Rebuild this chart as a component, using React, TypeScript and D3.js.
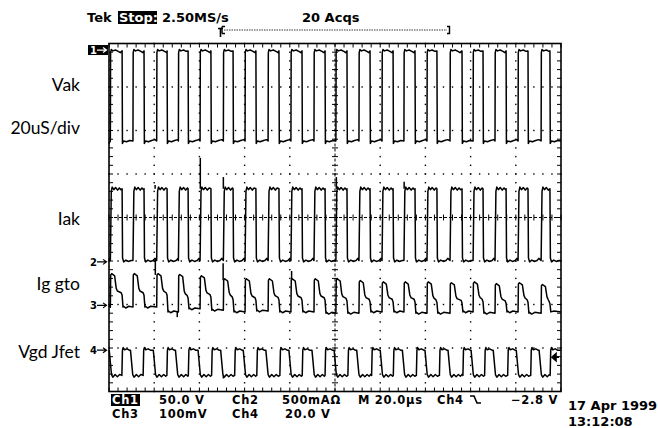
import * as d3 from "d3";

// scope settings: 20 us/div over 10 divisions, 8 vertical divisions
const timeDomain = [0, 200];
const divDomain = [-4, 4];

const gtoRise = [0.6, 10.6, 21.1, 30.7, 40.3, 50.6, 60.2, 70.4, 80.5, 90.7, 100.4, 110.6, 120.8, 130.5, 140.7, 150.9, 161.1, 170.8, 181.0, 191.2];
const gtoFall = [5.8, 15.5, 25.7, 35.0, 45.1, 54.9, 65.0, 75.2, 85.4, 95.6, 105.3, 115.5, 125.7, 135.4, 145.1, 156.2, 165.5, 175.7, 185.4, 195.1];

// JFET gate edges (us), Ch4
const jfetRise = [5.7, 15.1, 25.6, 35.1, 45.4, 55.6, 65.4, 75.6, 85.5, 95.6, 105.7, 116.2, 125.8, 136.0, 146.2, 156.6, 166.2, 176.4, 186.6, 195.2];
const jfetFall = [0.1, 9.5, 19.6, 29.4, 39.4, 49.4, 59.4, 69.4, 79.6, 89.8, 99.6, 109.6, 120.0, 129.8, 139.8, 150.0, 160.2, 170.0, 180.2, 190.3];

// levels in divisions
const vakLevels = [3.83, 1.76];
const iakLevels = [0.66, -0.99];
const jfetLevels = [-3.05, -3.63];

// plateau ripple [dt us, delta div]
const vakHiShape = [[0, -0.04], [0.3, 0.03], [1.0, 0.0], [2.2, 0.02], [3.4, -0.01], [4.3, -0.04]];
const vakLoShape = [[0, -0.06], [0.5, 0.0], [1.8, -0.02], [3.2, 0.01], [4.6, 0.03]];
const iakHiShape = [[0, -0.06], [0.4, 0.04], [1.1, -0.02], [1.9, 0.03], [2.8, -0.03], [3.6, 0.02], [4.3, -0.02]];
const iakLoShape = [[0, 0.06], [0.5, -0.03], [1.5, 0.01], [2.6, -0.02], [3.8, 0.0], [4.6, 0.05]];
const jfetHiShape = [[0, 0.0], [0.3, 0.06], [0.9, 0.01], [2.0, 0.03], [3.0, 0.0]];
const jfetLoShape = [[0, 0.02], [0.6, -0.04], [1.6, 0.02], [2.6, -0.03], [3.6, 0.02], [4.5, -0.02], [5.4, 0.03]];

// Ig gto: peak per pulse and baseline before each pulse (+ final)
const gatePeak = [-1.32, -1.32, -1.32, -1.34, -1.37, -1.44, -1.44, -1.44, -1.44, -1.44, -1.44, -1.48, -1.51, -1.51, -1.51, -1.53, -1.51, -1.55, -1.53, -1.57];
const gateBase = [-2.06, -2.06, -2.06, -2.17, -2.10, -2.13, -2.17, -2.15, -2.17, -2.17, -2.20, -2.20, -2.17, -2.17, -2.20, -2.20, -2.17, -2.20, -2.17, -2.20, -2.17];
const gateMidFrac = 0.5;

// spikes [t us, from div, to div]
const iakSpikes = [[20.4, 0.66, 0.75], [40.4, 0.66, 1.37], [50.6, 0.66, 0.93], [100.6, 0.66, 0.93], [130.6, 0.66, 0.82]];
const gateSpikes = [[20.5, -1.32, -0.93], [50.5, -1.44, -1.05], [80.8, -1.44, -1.23], [30.2, -2.17, -2.29]];
const jfetSpikes = [[50.6, -3.63, -3.70]];

const markerLevels = [3.85, -1.02, -2.02, -3.05];
const markerNames = ["1", "2", "3", "4"];

const headerTexts = ["Tek", "Stop:", "2.50MS/s", "20 Acqs"];
const statusRow1 = ["Ch1", "50.0 V", "Ch2", "500mAΩ", "M 20.0µs", "Ch4", "−2.8 V"];
const statusRow2 = ["Ch3", "100mV", "Ch4", "20.0 V"];
const dateTexts = ["17 Apr 1999", "13:12:08"];

const x = d3.scaleLinear().domain(timeDomain).range([109, 561]);
const y = d3.scaleLinear().domain(divDomain).range([391.5, 43.5]);
const line = d3.line<number[]>().x((d) => x(d[0])).y((d) => y(d[1]));

function squareWave(levels, rises, falls, riseDur, fallDur, hiShape, loShape) {
  const edges = [
    ...rises.map((t) => ({ t, up: true })),
    ...falls.map((t) => ({ t, up: false })),
  ].sort((a, b) => a.t - b.t);
  const pts = [];
  let high = !edges[0].up;
  let start = timeDomain[0];
  const plateau = (from, to, isHigh) => {
    const L = isHigh ? levels[0] : levels[1];
    const shape = isHigh ? hiShape : loShape;
    shape.forEach(([dt, dv]) => {
      if (from + dt < to - 0.15) pts.push([from + dt, L + dv]);
    });
    pts.push([to, L]);
  };
  edges.forEach((e) => {
    plateau(start, e.t, high);
    high = e.up;
    start = e.t + (e.up ? riseDur : fallDur);
  });
  plateau(start, timeDomain[1], high);
  return pts;
}

function gateWave() {
  const pts = [];
  let start = timeDomain[0];
  gtoRise.forEach((r, k) => {
    const b = gateBase[k];
    const p = gatePeak[k];
    const m = b + gateMidFrac * (p - b);
    const f = gtoFall[k];
    [[0, 0.03], [1.2, -0.02], [2.6, 0.02]].forEach(([dt, dv]) => {
      if (start + dt < r - 0.3) pts.push([start + dt, b + dv]);
    });
    pts.push([r, b]);
    pts.push([r + 0.15, p]);
    pts.push([r + 0.6, p + 0.03]);
    pts.push([r + 1.9, p - 0.02]);
    pts.push([r + 2.6, m + 0.06]);
    pts.push([r + 3.1, m]);
    pts.push([f - 0.4, m - 0.04]);
    pts.push([f, m - 0.1]);
    pts.push([f + 0.4, gateBase[k + 1]]);
    start = f + 0.4;
  });
  const b = gateBase[gateBase.length - 1];
  pts.push([start + 1.5, b + 0.02], [timeDomain[1], b]);
  return pts;
}

const font = "'DejaVu Sans', sans-serif";
const labelFont = "Lato, 'Open Sans', sans-serif";

export default function App() {
  const vak = squareWave(vakLevels, gtoRise, gtoFall, 0.1, 0.15, vakHiShape, vakLoShape);
  const iak = squareWave(iakLevels, gtoRise, gtoFall, 0.4, 0.2, iakHiShape, iakLoShape);
  const jfet = squareWave(jfetLevels, jfetRise, jfetFall, 0.25, 1.0, jfetHiShape, jfetLoShape);
  const gate = gateWave();

  const [x0, x1] = x.range();
  const [y0, y1] = [y(4), y(-4)];
  const xMinor = d3.range(0, 201, 4);
  const yMinor = d3.range(-4, 4.01, 0.2);
  const xMajor = d3.range(20, 200, 20);
  const yMajor = d3.range(-3, 4, 1);

  return (
    <svg width={658} height={428} style={{ position: "absolute", left: 0, top: 0, background: "#fff" }}>
      {/* graticule dotted lines */}
      <g fill="#000">
        {xMajor.filter((t) => t !== 100).map((t) =>
          yMinor.map((v) => <rect key={`vx${t}_${v}`} x={x(t) - 0.7} y={y(v) - 0.7} width={1.4} height={1.4} />)
        )}
        {yMajor.filter((v) => v !== 0).map((v) =>
          xMinor.map((t) => <rect key={`hy${v}_${t}`} x={x(t) - 0.7} y={y(v) - 0.7} width={1.4} height={1.4} />)
        )}
      </g>
      {/* center crosshair */}
      <g stroke="#000" strokeWidth={1}>
        <line x1={x0} x2={x1} y1={y(0)} y2={y(0)} strokeDasharray="3 2" />
        <line x1={x(100)} x2={x(100)} y1={y0} y2={y1} strokeDasharray="3 2" />
        {xMinor.map((t) => (
          <line key={`cx${t}`} x1={x(t)} x2={x(t)} y1={y(0) - 3} y2={y(0) + 3} />
        ))}
        {yMinor.map((v) => (
          <line key={`cy${v}`} x1={x(100) - 3} x2={x(100) + 3} y1={y(v)} y2={y(v)} />
        ))}
        {/* border ticks */}
        {xMinor.map((t) => (
          <g key={`bt${t}`}>
            <line x1={x(t)} x2={x(t)} y1={y0} y2={y0 + 4} />
            <line x1={x(t)} x2={x(t)} y1={y1} y2={y1 - 4} />
          </g>
        ))}
        {yMinor.map((v) => (
          <g key={`bl${v}`}>
            <line x1={x0} x2={x0 + 4} y1={y(v)} y2={y(v)} />
            <line x1={x1} x2={x1 - 4} y1={y(v)} y2={y(v)} />
          </g>
        ))}
      </g>
      <rect x={x0} y={y0} width={x1 - x0} height={y1 - y0} fill="none" stroke="#000" strokeWidth={1.6} />

      {/* traces */}
      <g fill="none" stroke="#000" strokeWidth={1.5} strokeLinejoin="round">
        <path d={line(vak)} />
        <path d={line(iak)} />
        <path d={line(gate)} />
        <path d={line(jfet)} />
        {[...iakSpikes, ...gateSpikes, ...jfetSpikes].map(([t, a, b], i) => (
          <line key={`sp${i}`} x1={x(t)} x2={x(t)} y1={y(a)} y2={y(b)} />
        ))}
      </g>

      {/* channel markers */}
      {markerLevels.map((v, i) => {
        const yy = y(v);
        const inv = i === 0;
        return (
          <g key={`m${i}`}>
            {inv && <rect x={88} y={yy - 5} width={20} height={10} fill="#000" />}
            <text x={90} y={yy + 4} fontFamily={font} fontWeight="bold" fontSize={10} fill={inv ? "#fff" : "#000"}>
              {markerNames[i]}
            </text>
            <path d={`M97,${yy}H106M103,${yy - 2.5}L106.5,${yy}L103,${yy + 2.5}`} stroke={inv ? "#fff" : "#000"} strokeWidth={1.2} fill="none" />
          </g>
        );
      })}
      {/* trigger level arrow */}
      <path d={`M559,${y(-3.21)}H553M556,${y(-3.21) - 3.5}L552,${y(-3.21)}L556,${y(-3.21) + 3.5}Z`} stroke="#000" strokeWidth={1.6} fill="#000" />

      {/* left labels */}
      <g fontFamily={labelFont} fontSize={17.5} textAnchor="end" fill="#000">
        <text x={80} y={91}>Vak</text>
        <text x={80} y={134}>20uS/div</text>
        <text x={80} y={225}>Iak</text>
        <text x={80} y={290}>Ig gto</text>
        <text x={80} y={358}>Vgd Jfet</text>
      </g>

      {/* header */}
      <g fontFamily={font} fontWeight="bold" fontSize={13} fill="#000">
        <text x={87} y={22}>{headerTexts[0]}</text>
        <rect x={118} y={11} width={39} height={13} fill="#000" />
        <text x={119} y={22} fill="#fff">{headerTexts[1]}</text>
        <text x={162} y={22}>{headerTexts[2]}</text>
        <text x={302} y={22}>{headerTexts[3]}</text>
      </g>
      {/* trigger position bar */}
      <g stroke="#000" fill="none">
        <path d="M222,26.5V33.5M222,26.5H225M222,33.5H225" strokeWidth={1.4} />
        <path d="M218,28.5H223M220.5,28.5V37" strokeWidth={1.6} />
        <line x1={224} x2={447} y1={30} y2={30} strokeWidth={0.8} strokeDasharray="1.5 1" />
        <path d="M447,26.5H449.5V33.5H447" strokeWidth={1.4} />
      </g>

      {/* status lines */}
      <g fontFamily={font} fontWeight="bold" fontSize={11.5} letterSpacing={0.7} fill="#000">
        <rect x={111} y={394} width={29} height={12} fill="#000" />
        <text x={112} y={404} fill="#fff">{statusRow1[0]}</text>
        <text x={159} y={404}>{statusRow1[1]}</text>
        <text x={232} y={404}>{statusRow1[2]}</text>
        <text x={282} y={404}>{statusRow1[3]}</text>
        <text x={358} y={404}>{statusRow1[4]}</text>
        <text x={437} y={404}>{statusRow1[5]}</text>
        <text x={558} y={404} textAnchor="end">{statusRow1[6]}</text>
        <text x={112} y={418}>{statusRow2[0]}</text>
        <text x={159} y={418}>{statusRow2[1]}</text>
        <text x={232} y={418}>{statusRow2[2]}</text>
        <text x={285} y={418}>{statusRow2[3]}</text>
      </g>
      <g fontFamily={font} fontWeight="bold" fontSize={13} fill="#000">
        <text x={568} y={410}>{dateTexts[0]}</text>
        <text x={568} y={426}>{dateTexts[1]}</text>
      </g>
      <path d="M470,396H474L477,403H481" stroke="#000" strokeWidth={1.6} fill="none" />
    </svg>
  );
}
